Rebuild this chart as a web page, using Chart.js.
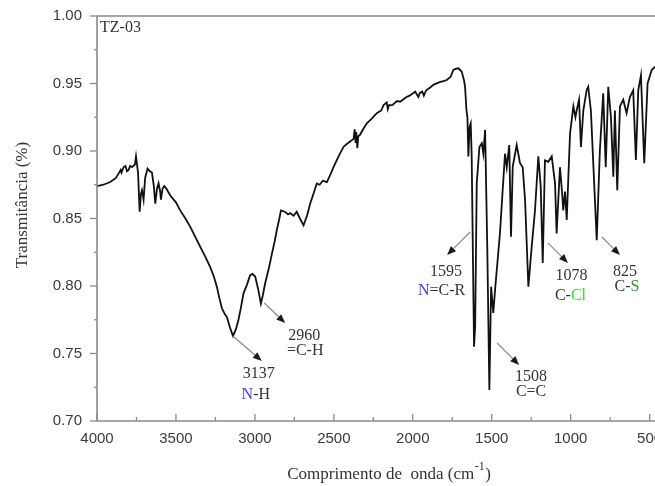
<!DOCTYPE html>
<html><head><meta charset="utf-8">
<script src="https://cdn.jsdelivr.net/npm/chart.js@4.4.0/dist/chart.umd.min.js"></script>
<style>html,body{margin:0;padding:0;background:#fff;}#wrap{width:655px;height:486px;}</style>
</head><body><div id="wrap"><canvas id="c" width="655" height="486"></canvas></div>
<script>
// ---- data ----
const wavenumbers = [4000,3960,3916,3880,3850,3845,3832,3820,3810,3800,3790,3778,3760,3753,3740,3730,3722,3715,3705,3695,3680,3665,3652,3640,3631,3620,3610,3600,3595,3585,3574,3560,3536,3500,3473,3440,3410,3380,3346,3315,3283,3260,3241,3225,3209,3190,3177,3160,3139,3120,3104,3090,3072,3050,3030,3015,2998,2980,2962,2950,2935,2910,2892,2875,2861,2845,2835,2810,2790,2777,2755,2735,2715,2692,2670,2650,2630,2608,2590,2570,2544,2520,2502,2470,2439,2420,2397,2375,2368,2362,2358,2351,2345,2334,2310,2291,2260,2228,2200,2185,2165,2158,2150,2130,2100,2080,2040,2020,1996,1985,1965,1955,1940,1930,1915,1890,1870,1830,1800,1785,1760,1743,1725,1711,1700,1690,1675,1669,1660,1654,1648,1640,1633,1627,1612,1605,1595,1578,1563,1553,1542,1528,1515,1504,1490,1479,1448,1416,1405,1389,1378,1367,1342,1321,1304,1289,1268,1247,1226,1205,1190,1177,1163,1142,1120,1099,1089,1068,1055,1047,1036,1025,1015,1004,983,970,962,947,935,920,899,889,872,857,835,815,794,778,762,745,730,720,705,688,667,646,625,604,587,572,555,534,513,487,466];
const transmittance = [0.874,0.875,0.877,0.880,0.886,0.884,0.888,0.889,0.885,0.886,0.889,0.888,0.890,0.896,0.884,0.855,0.868,0.871,0.864,0.880,0.887,0.885,0.884,0.874,0.861,0.872,0.876,0.870,0.864,0.872,0.874,0.872,0.867,0.862,0.856,0.850,0.844,0.837,0.829,0.822,0.814,0.807,0.7995,0.791,0.7835,0.779,0.777,0.770,0.763,0.768,0.775,0.783,0.7946,0.801,0.808,0.809,0.807,0.798,0.787,0.793,0.802,0.814,0.824,0.833,0.8415,0.850,0.856,0.855,0.853,0.854,0.852,0.855,0.850,0.845,0.852,0.861,0.868,0.876,0.875,0.878,0.877,0.883,0.888,0.896,0.903,0.905,0.907,0.909,0.916,0.906,0.914,0.902,0.911,0.912,0.917,0.9205,0.924,0.928,0.930,0.934,0.936,0.931,0.934,0.934,0.937,0.9365,0.940,0.941,0.943,0.944,0.940,0.943,0.944,0.941,0.945,0.947,0.949,0.951,0.952,0.9526,0.955,0.960,0.961,0.9613,0.960,0.9588,0.952,0.9476,0.930,0.925,0.896,0.918,0.9205,0.896,0.755,0.770,0.876,0.903,0.9057,0.898,0.9156,0.827,0.723,0.7995,0.780,0.797,0.839,0.898,0.888,0.9044,0.8365,0.8884,0.9044,0.891,0.888,0.864,0.7995,0.829,0.856,0.896,0.874,0.817,0.893,0.892,0.896,0.876,0.839,0.888,0.870,0.856,0.870,0.849,0.880,0.913,0.933,0.925,0.930,0.938,0.903,0.930,0.945,0.9476,0.930,0.891,0.834,0.9007,0.9427,0.888,0.9476,0.925,0.881,0.930,0.871,0.933,0.938,0.928,0.940,0.945,0.8933,0.945,0.956,0.891,0.950,0.960,0.9625];
const xTickValues = [4000,3500,3000,2500,2000,1500,1000,500];
const yTickValues = [0.70,0.75,0.80,0.85,0.90,0.95,1.00];
const sampleLabel = 'TZ-03';
const xAxisTitle = 'Comprimento de  onda (cm';
const xAxisTitleSup = '-1';
const yAxisTitle = 'Transmitância (%)';
// annotation anchors (wavenumber, transmittance) and texts
const peakWn = [3140, 2941, 1637, 1466, 1144, 802];
const peakT = [0.763, 0.7874, 0.840, 0.7578, 0.8319, 0.8363];
const peakValueLabels = ['3137', '2960', '1595', '1508', '1078', '825'];
const peakGroupLabels = [
  [['N', '#3b3bff'], ['-H', '#333']],
  [['=C-H', '#333']],
  [['N', '#3b3bff'], ['=C-R', '#333']],
  [['C=C', '#333']],
  [['C-', '#333'], ['Cl', '#2ee02e']],
  [['C-', '#333'], ['S', '#2a9a2a']]
];
// ---- style (pixel offsets relative to anchors) ----
const arrowVec = [[29,25],[21,20],[-23,23],[22,22],[20,20],[18,18]];
const valueOff = [[26,38],[40,33],[-24,40],[34,34],[23.5,33],[23,35]];
const groupOff = [[23,59],[41,48],[-28.5,59],[34,49],[22.5,53],[25,50]];

const SERIF = '"Liberation Serif", "Times New Roman", serif';
const SANS = '"Liberation Sans", Arial, sans-serif';
const AXIS = '#8a8a8a';

const decor = {
  id: 'decor',
  afterDraw(chart) {
    const {ctx, chartArea: a, scales: {x, y}} = chart;
    ctx.save();
    ctx.strokeStyle = AXIS;
    ctx.lineWidth = 1.6;
    const seg = (x1, y1, x2, y2) => { ctx.beginPath(); ctx.moveTo(x1, y1); ctx.lineTo(x2, y2); ctx.stroke(); };
    seg(a.left, a.top, a.right, a.top);
    seg(a.left, a.top, a.left, a.bottom);
    seg(a.left, a.bottom, a.right, a.bottom);
    ctx.lineWidth = 1.3;
    yTickValues.forEach((v, i) => {
      const py = y.getPixelForValue(v);
      seg(a.left - 7, py, a.left, py);
      if (i < yTickValues.length - 1) {
        const pm = y.getPixelForValue((v + yTickValues[i + 1]) / 2);
        seg(a.left - 3, pm, a.left, pm);
      }
    });
    xTickValues.forEach((v) => {
      const px = x.getPixelForValue(v);
      seg(px, a.bottom, px, a.bottom - 7);
      const m = v - 250;
      if (m >= x.min) {
        const pm = x.getPixelForValue(m);
        seg(pm, a.bottom, pm, a.bottom - 4);
      }
    });
    ctx.fillStyle = '#333';
    ctx.font = '16px ' + SERIF;
    ctx.textAlign = 'left';
    ctx.textBaseline = 'middle';
    ctx.fillText(sampleLabel, a.left + 3, a.top + 11.5);
    ctx.font = '17px ' + SERIF;
    const w1 = ctx.measureText(xAxisTitle).width;
    ctx.font = '12px ' + SERIF;
    const w2 = ctx.measureText(xAxisTitleSup).width;
    ctx.font = '17px ' + SERIF;
    const w3 = ctx.measureText(')').width;
    let sx = 389 - (w1 + w2 + w3 + 1) / 2;
    const by = 479;
    ctx.textBaseline = 'alphabetic';
    ctx.fillText(xAxisTitle, sx, by);
    ctx.font = '12px ' + SERIF;
    ctx.fillText(xAxisTitleSup, sx + w1 + 0.5, by - 9);
    ctx.font = '17px ' + SERIF;
    ctx.fillText(')', sx + w1 + w2 + 1, by);
    ctx.save();
    ctx.translate(23, 205);
    ctx.rotate(-Math.PI / 2);
    ctx.textAlign = 'center';
    ctx.textBaseline = 'middle';
    ctx.font = '17px ' + SERIF;
    ctx.fillText(yAxisTitle, 0, 0);
    ctx.restore();
    ctx.restore();
  },
  afterDatasetsDraw(chart) {
    const {ctx, scales: {x, y}} = chart;
    ctx.save();
    peakWn.forEach((wn, i) => {
      const sx = x.getPixelForValue(wn), sy = y.getPixelForValue(peakT[i]);
      const ex = sx + arrowVec[i][0], ey = sy + arrowVec[i][1];
      const ang = Math.atan2(ey - sy, ex - sx);
      const hl = 9, hw = 3.6;
      const bx = ex - hl * Math.cos(ang), byy = ey - hl * Math.sin(ang);
      ctx.strokeStyle = '#8a8a8a';
      ctx.lineWidth = 1.2;
      ctx.beginPath(); ctx.moveTo(sx, sy); ctx.lineTo(bx, byy); ctx.stroke();
      ctx.fillStyle = '#1a1a1a';
      ctx.beginPath();
      ctx.moveTo(ex, ey);
      ctx.lineTo(bx + hw * Math.sin(ang), byy - hw * Math.cos(ang));
      ctx.lineTo(bx - hw * Math.sin(ang), byy + hw * Math.cos(ang));
      ctx.closePath(); ctx.fill();
      ctx.font = '16px ' + SERIF;
      ctx.textBaseline = 'middle';
      ctx.textAlign = 'center';
      ctx.fillStyle = '#333';
      ctx.fillText(peakValueLabels[i], sx + valueOff[i][0], sy + valueOff[i][1]);
      const parts = peakGroupLabels[i];
      const tw = parts.reduce((s, p) => s + ctx.measureText(p[0]).width, 0);
      let cx = sx + groupOff[i][0] - tw / 2;
      ctx.textAlign = 'left';
      parts.forEach(p => {
        ctx.fillStyle = p[1];
        ctx.fillText(p[0], cx, sy + groupOff[i][1]);
        cx += ctx.measureText(p[0]).width;
      });
    });
    ctx.restore();
  }
};

const points = wavenumbers.map((w, i) => ({x: w, y: transmittance[i]}));

new Chart(document.getElementById('c'), {
  type: 'line',
  data: {datasets: [{data: points, borderColor: '#111', borderWidth: 1.8, pointRadius: 0, tension: 0, fill: false}]},
  options: {
    responsive: false,
    animation: false,
    layout: {padding: {top: 16, left: 0, right: 0, bottom: 0}},
    plugins: {legend: {display: false}, tooltip: {enabled: false}},
    scales: {
      x: {
        type: 'linear', reverse: true, min: 466, max: 4000,
        grid: {display: false, drawTicks: false}, border: {display: false},
        afterBuildTicks: s => { s.ticks = xTickValues.map(v => ({value: v})); },
        afterFit: s => { s.height = 65; s.paddingLeft = 0; s.paddingRight = 0; },
        ticks: {autoSkip: false, maxRotation: 0, padding: 9, color: '#3a3a3a', font: {family: SANS, size: 15}, callback: v => String(v)}
      },
      y: {
        type: 'linear', min: 0.70, max: 1.00,
        grid: {display: false, drawTicks: false}, border: {display: false},
        afterBuildTicks: s => { s.ticks = yTickValues.map(v => ({value: v})); },
        afterFit: s => { s.width = 97; s.paddingTop = 0; s.paddingBottom = 0; },
        ticks: {padding: 15, color: '#3a3a3a', font: {family: SANS, size: 15}, callback: v => Number(v).toFixed(2)}
      }
    }
  },
  plugins: [decor]
});
</script></body></html>
